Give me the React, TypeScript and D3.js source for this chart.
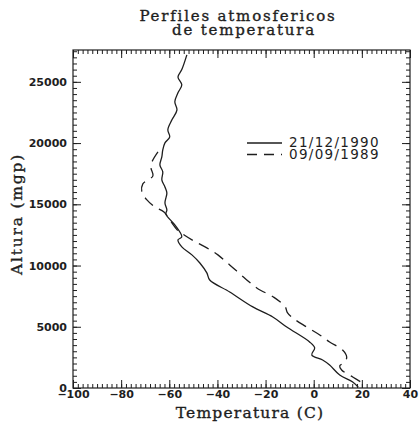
import { useEffect, useRef } from 'react';
import * as d3 from 'd3';

const W = 420;
const H = 424;

// [temperatura (C), altura (mgp)]
const perfil1990: [number, number][] = [
  [-52.7, 27200], [-54.8, 26000], [-56.4, 25400], [-54.8, 24760], [-56.4, 24100],
  [-57.7, 23370], [-56.8, 22710], [-58.9, 21900], [-60.6, 21080], [-59.8, 20510],
  [-61.8, 20020], [-62.7, 19440], [-63.1, 18870], [-63.9, 18220], [-62.7, 17650],
  [-63.1, 16990], [-61.8, 16420], [-61.0, 15930], [-61.8, 15110], [-61.0, 14540],
  [-61.4, 14200], [-57.7, 13320], [-54.8, 12340], [-56.4, 12090], [-54.8, 11520],
  [-50.6, 10870], [-47.3, 10210], [-44.4, 9400], [-43.2, 8820], [-34.9, 7840],
  [-25.3, 6620], [-17.0, 5800], [-11.2, 4980], [-1.7, 3760], [0.4, 3270],
  [-0.8, 2700], [3.7, 2290], [6.6, 1880], [10.8, 1060], [16.2, 490], [18.5, 60],
];

const perfil1989: [number, number][] = [
  [-64.7, 19280], [-67.2, 18460], [-67.6, 17970], [-66.8, 17320], [-71.0, 16670],
  [-71.4, 16010], [-69.3, 15360], [-66.0, 14790], [-62.2, 14380], [-59.8, 13730],
  [-56.4, 12850], [-53.5, 12450], [-50.2, 12050], [-44.4, 11440], [-39.8, 10870],
  [-34.9, 10050], [-28.5, 8950], [-23.5, 8150], [-16.5, 7400], [-11.8, 6620],
  [-11.0, 6180], [-8.7, 5720], [-2.9, 4980], [2.5, 4330], [6.6, 3760],
  [12.0, 3100], [13.7, 2530], [12.9, 2120], [10.8, 1800], [11.6, 1470],
  [16.2, 900], [20.3, 410],
];

const seriesLabels = ['21/12/1990', '09/09/1989'];
const xTicks = [-100, -80, -60, -40, -20, 0, 20, 40];
const yTicks = [0, 5000, 10000, 15000, 20000, 25000];
const titleLines = ['Perfiles atmosfericos', 'de temperatura'];

export default function App() {
  const ref = useRef<SVGSVGElement>(null);

  useEffect(() => {
    const svg = d3.select(ref.current);
    svg.selectAll('*').remove();

    const left = 73, right = 410, top = 50, bottom = 388;
    const ink = '#1e1e1e';

    const x = d3.scaleLinear().domain([-100, 40]).range([left, right]);
    const y = d3.scaleLinear().domain([0, 27600]).range([bottom, top]);

    svg.append('rect').attr('width', W).attr('height', H).attr('fill', '#fff');

    const xMinor = d3.range(-100, 40.01, 2);
    const yMinor = d3.range(0, 27600, 500);

    const styleAxis = (g: any) => {
      g.select('.domain').remove();
      g.selectAll('line').attr('stroke', ink).attr('stroke-width', 1);
      g.selectAll('text')
        .attr('fill', ink)
        .attr('font-family', 'DejaVu Sans')
        .attr('font-weight', 'bold')
        .attr('font-size', 11);
    };

    // ejes con marcas hacia dentro, como en IDL
    svg.append('g').attr('transform', `translate(0,${bottom})`)
      .call(d3.axisBottom(x).tickValues(xMinor).tickSize(-4).tickFormat(() => ''))
      .call(styleAxis);
    svg.append('g').attr('transform', `translate(0,${bottom})`)
      .call(d3.axisBottom(x).tickValues(xTicks).tickSizeInner(-8).tickSizeOuter(0).tickPadding(2).tickFormat(d3.format('d')))
      .call(styleAxis);
    svg.append('g').attr('transform', `translate(0,${top})`)
      .call(d3.axisTop(x).tickValues(xMinor).tickSize(-4).tickFormat(() => ''))
      .call(styleAxis);
    svg.append('g').attr('transform', `translate(0,${top})`)
      .call(d3.axisTop(x).tickValues(xTicks).tickSize(-8).tickFormat(() => ''))
      .call(styleAxis);

    svg.append('g').attr('transform', `translate(${left},0)`)
      .call(d3.axisLeft(y).tickValues(yMinor).tickSize(-4).tickFormat(() => ''))
      .call(styleAxis);
    svg.append('g').attr('transform', `translate(${left},0)`)
      .call(d3.axisLeft(y).tickValues(yTicks).tickSizeInner(-8).tickSizeOuter(0).tickPadding(6).tickFormat(d3.format('d')))
      .call(styleAxis);
    svg.append('g').attr('transform', `translate(${right},0)`)
      .call(d3.axisRight(y).tickValues(yMinor).tickSize(-4).tickFormat(() => ''))
      .call(styleAxis);
    svg.append('g').attr('transform', `translate(${right},0)`)
      .call(d3.axisRight(y).tickValues(yTicks).tickSize(-8).tickFormat(() => ''))
      .call(styleAxis);

    svg.append('rect')
      .attr('x', left).attr('y', top)
      .attr('width', right - left).attr('height', bottom - top)
      .attr('fill', 'none').attr('stroke', ink).attr('stroke-width', 1.2);

    const line = d3.line<[number, number]>()
      .x(d => x(d[0]))
      .y(d => y(d[1]))
      .curve(d3.curveCatmullRom.alpha(0.5));

    svg.append('path')
      .datum(perfil1990)
      .attr('fill', 'none')
      .attr('stroke', ink)
      .attr('stroke-width', 1.3)
      .attr('d', line);

    svg.append('path')
      .datum(perfil1989)
      .attr('fill', 'none')
      .attr('stroke', ink)
      .attr('stroke-width', 1.3)
      .attr('stroke-dasharray', '11,7')
      .attr('d', line);

    // leyenda
    const legend = svg.append('g');
    seriesLabels.forEach((label, i) => {
      const ly = 143 + i * 11.5;
      legend.append('line')
        .attr('x1', 247).attr('x2', 282)
        .attr('y1', ly).attr('y2', ly)
        .attr('stroke', ink).attr('stroke-width', 1.3)
        .attr('stroke-dasharray', i === 1 ? '10,7' : null);
      legend.append('text')
        .attr('x', 289).attr('y', 147 + i * 12)
        .attr('font-family', 'DejaVu Sans')
        .attr('font-size', 13.5)
        .attr('letter-spacing', 1.3)
        .attr('fill', ink)
        .text(label);
    });

    // titulos
    const serif = (t: any) => t
      .attr('font-family', 'DejaVu Serif')
      .attr('fill', ink)
      .attr('stroke', ink)
      .attr('stroke-width', 0.35);

    titleLines.forEach((t, i) => {
      svg.append('text')
        .attr('x', i === 0 ? 238 : 244)
        .attr('y', 21 + i * 14)
        .attr('text-anchor', 'middle')
        .attr('font-size', 15)
        .attr('letter-spacing', 1.8)
        .call(serif)
        .text(t);
    });

    svg.append('text')
      .attr('x', 250).attr('y', 418)
      .attr('text-anchor', 'middle')
      .attr('font-size', 15.5)
      .attr('letter-spacing', 1.2)
      .call(serif)
      .text('Temperatura (C)');

    svg.append('text')
      .attr('transform', 'translate(22,214) rotate(-90)')
      .attr('text-anchor', 'middle')
      .attr('font-size', 15.5)
      .attr('letter-spacing', 1.8)
      .call(serif)
      .text('Altura (mgp)');
  }, []);

  return <svg ref={ref} width={W} height={H} style={{ position: 'absolute', left: 0, top: 0 }} />;
}
